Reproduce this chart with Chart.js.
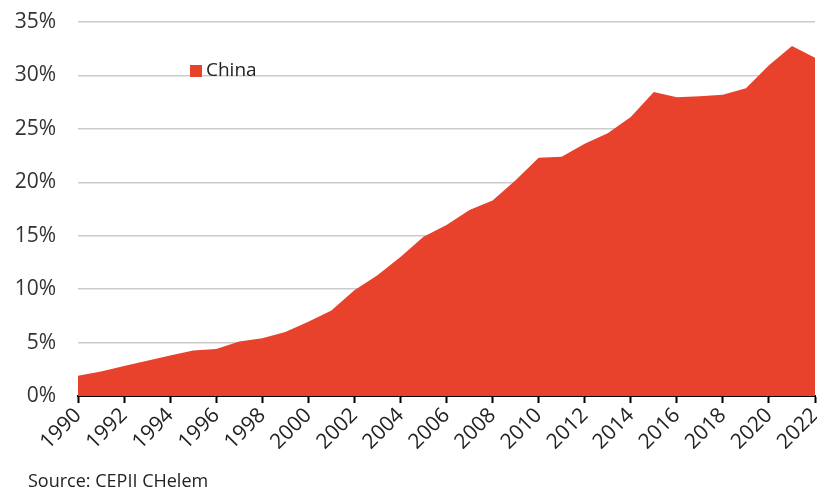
<!DOCTYPE html>
<html>
<head>
<meta charset="utf-8">
<script src="https://cdn.jsdelivr.net/npm/chart.js@4/dist/chart.umd.min.js"></script>
<style>
  html, body { margin: 0; padding: 0; background: #fff; }
  #wrap { width: 817px; height: 492px; position: relative; }
</style>
</head>
<body>
<div id="wrap"><canvas id="chart" width="817" height="492"></canvas></div>
<script>
// データ
const years = [1990, 1991, 1992, 1993, 1994, 1995, 1996, 1997, 1998, 1999,
    2000, 2001, 2002, 2003, 2004, 2005, 2006, 2007, 2008, 2009,
    2010, 2011, 2012, 2013, 2014, 2015, 2016, 2017, 2018, 2019,
    2020, 2021, 2022];
const chinaShare = [1.9, 2.3, 2.8, 3.3, 3.8, 4.25, 4.4, 5.1, 5.4, 6.0,
    6.95, 8.0, 9.9, 11.3, 13.0, 14.9, 16.0, 17.4, 18.3, 20.2,
    22.3, 22.4, 23.6, 24.6, 26.1, 28.45, 27.95, 28.05, 28.2, 28.8,
    30.95, 32.75, 31.65];
const seriesName = 'China';
const sourceText = 'Source: CEPII CHelem';

const RED = '#e8412c';
const FONT = "'Open Sans', 'DejaVu Sans', sans-serif";

// 凡例と出典を描く
const extras = {
    id: 'extras',
    afterDraw(c) {
        const ctx = c.ctx;
        ctx.save();
        ctx.fillStyle = RED;
        ctx.fillRect(190, 65, 12, 12);
        ctx.fillStyle = '#222';
        ctx.font = '19px ' + FONT;
        ctx.textBaseline = 'middle';
        ctx.textAlign = 'left';
        ctx.fillText(seriesName, 206, 71);
        ctx.font = '18px ' + FONT;
        ctx.fillText(sourceText, 28, 482);
        ctx.restore();
    }
};

const ctx = document.getElementById('chart').getContext('2d');
new Chart(ctx, {
    type: 'line',
    data: {
        datasets: [{
            label: seriesName,
            data: years.map((y, i) => ({ x: y, y: chinaShare[i] })),
            backgroundColor: RED,
            borderColor: RED,
            borderWidth: 0,
            fill: 'origin',
            pointRadius: 0,
            tension: 0
        }]
    },
    options: {
        responsive: false,
        animation: false,
        layout: { padding: { top: 22, right: 2, left: 0, bottom: 0 } },
        plugins: {
            legend: { display: false },
            tooltip: { enabled: false }
        },
        scales: {
            x: {
                type: 'linear',
                min: 1990,
                max: 2022,
                afterFit: s => {
                    s.height = 96;
                    s.paddingLeft = 0;
                    s.paddingRight = 0;
                },
                ticks: {
                    stepSize: 2,
                    autoSkip: false,
                    maxRotation: 45,
                    minRotation: 45,
                    color: '#222',
                    font: { family: FONT, size: 21 },
                    padding: 0,
                    callback: v => String(v)
                },
                grid: {
                    drawOnChartArea: false,
                    drawTicks: true,
                    tickLength: 7,
                    tickColor: '#000',
                    tickWidth: 2
                },
                border: { display: true, color: '#000', width: 2 }
            },
            y: {
                min: 0,
                max: 35,
                afterFit: s => {
                    s.width = 78;
                    s.paddingTop = 0;
                    s.paddingBottom = 0;
                },
                ticks: {
                    stepSize: 5,
                    color: '#333',
                    font: { family: FONT, size: 21 },
                    padding: 22,
                    callback: v => v + '%'
                },
                grid: {
                    color: '#cccccc',
                    lineWidth: 1.5,
                    drawTicks: false
                },
                border: { display: false }
            }
        }
    },
    plugins: [extras]
});
</script>
</body>
</html>
